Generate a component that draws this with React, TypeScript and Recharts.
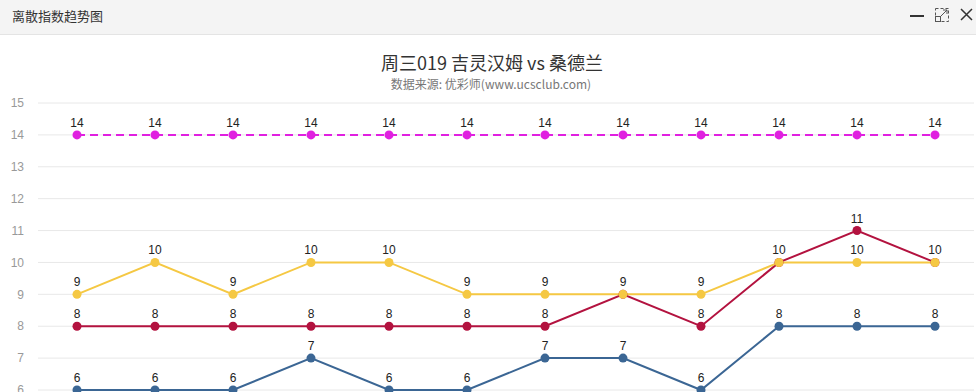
import { LineChart, Line, XAxis, YAxis, CartesianGrid, LabelList } from 'recharts'

const rounds = ['1', '2', '3', '4', '5', '6', '7', '8', '9', '10', '11', '12']
const magentaVals = [14, 14, 14, 14, 14, 14, 14, 14, 14, 14, 14, 14]
const yellowVals = [9, 10, 9, 10, 10, 9, 9, 9, 9, 10, 10, 10]
const redVals = [8, 8, 8, 8, 8, 8, 8, 9, 8, 10, 11, 10]
const blueVals = [6, 6, 6, 7, 6, 6, 7, 7, 6, 8, 8, 8]
const yTicks = [6, 7, 8, 9, 10, 11, 12, 13, 14, 15]

// red labels hidden where they sit exactly under the yellow ones
const data = rounds.map((r, i) => ({
  r,
  magenta: magentaVals[i],
  yellow: yellowVals[i],
  red: redVals[i],
  redLabel: redVals[i] === yellowVals[i] ? '' : redVals[i],
  blue: blueVals[i],
}))

const font = 'Arial, "Liberation Sans", sans-serif'

export default function App() {
  return (
    <div
      style={{
        position: 'absolute',
        left: 0,
        top: 0,
        width: 976,
        height: 392,
        overflow: 'hidden',
        background: '#fff',
        fontFamily: '"Microsoft YaHei", "Noto Sans CJK SC", sans-serif',
      }}
    >
      <div
        style={{
          position: 'absolute',
          left: 0,
          top: 0,
          width: 976,
          height: 34,
          background: '#f4f4f4',
          borderBottom: '1px solid #e4e4e4',
        }}
      >
        <div style={{ position: 'absolute', left: 12, top: 6, fontSize: 13, color: '#333' }}>离散指数趋势图</div>
        <div style={{ position: 'absolute', left: 910, top: 15, width: 14, height: 2, background: '#333' }} />
        <svg style={{ position: 'absolute', left: 935, top: 8 }} width="14" height="14">
          <rect x="0.5" y="0.5" width="13" height="13" fill="none" stroke="#555" strokeDasharray="3 2" />
          <rect x="0.5" y="8.5" width="5" height="5" fill="none" stroke="#555" />
          <path d="M6 8 L12 2 M8 2 H12 V6" fill="none" stroke="#555" />
        </svg>
        <svg style={{ position: 'absolute', left: 960, top: 8 }} width="13" height="13">
          <path d="M1 1 L12 12 M12 1 L1 12" stroke="#333" strokeWidth="1.5" />
        </svg>
      </div>

      <div style={{ position: 'absolute', left: 0, width: 984, top: 49, textAlign: 'center', fontSize: 18, color: '#333' }}>
        周三019 吉灵汉姆 vs 桑德兰
      </div>
      <div style={{ position: 'absolute', left: 0, width: 982, top: 75, textAlign: 'center', fontSize: 12, color: '#777' }}>
        数据来源: 优彩师(www.ucsclub.com)
      </div>

      <div style={{ position: 'absolute', left: 0, top: 0 }}>
        <LineChart width={976} height={400} data={data} margin={{ top: 103, right: 2, bottom: 10, left: 0 }}>
          <CartesianGrid horizontal vertical={false} stroke="#e8e8e8" />
          <XAxis dataKey="r" hide padding={{ left: 39, right: 39 }} />
          <YAxis
            width={38}
            domain={[6, 15]}
            ticks={yTicks}
            interval={0}
            axisLine={false}
            tickLine={false}
            tick={{ fill: '#999', fontSize: 12, fontFamily: font, dx: -6 }}
          />
          <Line dataKey="blue" stroke="#3b6694" strokeWidth={2} dot={{ r: 4.5, fill: '#3b6694', stroke: '#3b6694', strokeWidth: 0 }} isAnimationActive={false}>
            <LabelList dataKey="blue" position="top" offset={8} fill="#222" fontSize={12} fontFamily={font} />
          </Line>
          <Line dataKey="red" stroke="#b3123f" strokeWidth={2} dot={{ r: 4.5, fill: '#b3123f', stroke: '#b3123f', strokeWidth: 0 }} isAnimationActive={false}>
            <LabelList dataKey="redLabel" position="top" offset={8} fill="#222" fontSize={12} fontFamily={font} />
          </Line>
          <Line dataKey="yellow" stroke="#f5c843" strokeWidth={2} dot={{ r: 4.5, fill: '#f5c843', stroke: '#f5c843', strokeWidth: 0 }} isAnimationActive={false}>
            <LabelList dataKey="yellow" position="top" offset={8} fill="#222" fontSize={12} fontFamily={font} />
          </Line>
          <Line dataKey="magenta" stroke="#e020e0" strokeWidth={2} strokeDasharray="8 5" dot={{ r: 4.5, fill: '#e020e0', stroke: '#e020e0', strokeWidth: 0 }} isAnimationActive={false}>
            <LabelList dataKey="magenta" position="top" offset={8} fill="#222" fontSize={12} fontFamily={font} />
          </Line>
        </LineChart>
      </div>
    </div>
  )
}
